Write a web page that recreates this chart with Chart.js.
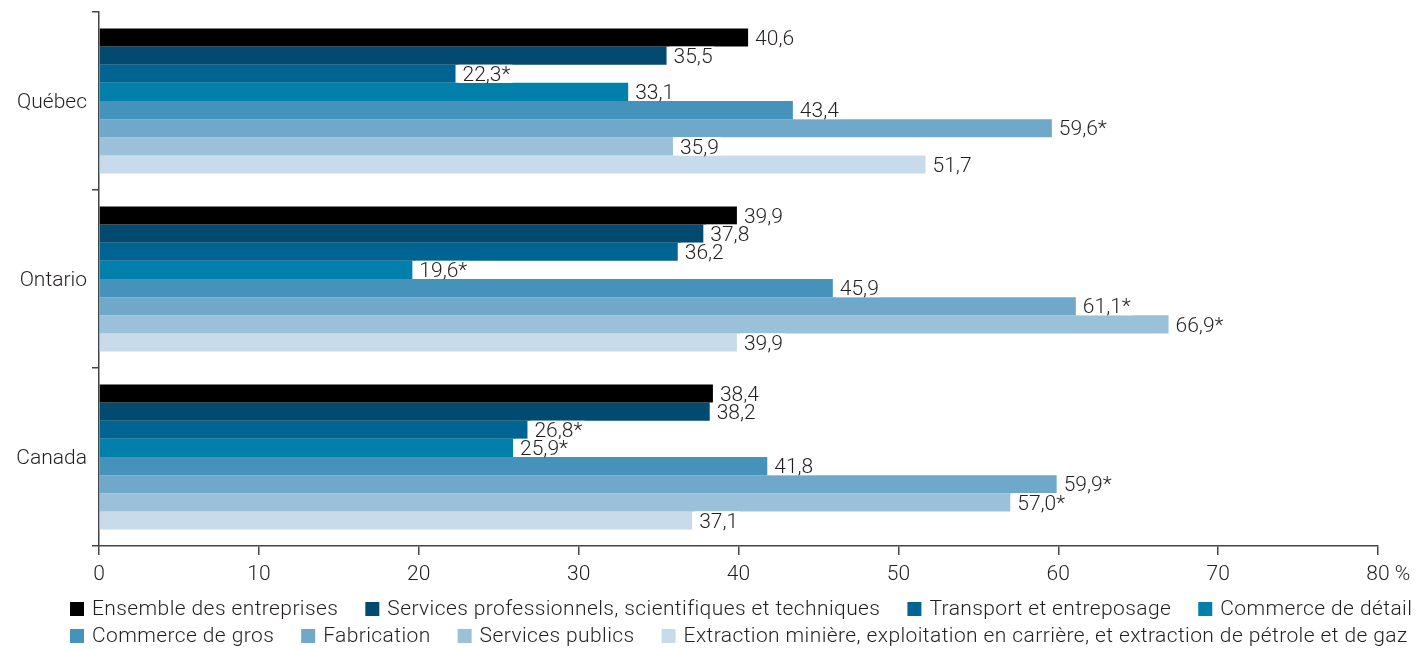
<!DOCTYPE html>
<html lang="fr">
<head>
<meta charset="utf-8">
<script src="https://cdn.jsdelivr.net/npm/chart.js@4.4.1/dist/chart.umd.min.js"></script>
<style>
  html, body { margin: 0; padding: 0; background: #fff; }
  #wrap { width: 1420px; height: 649px; }
</style>
</head>
<body>
<div id="wrap"><canvas id="chart" width="1420" height="649"></canvas></div>
<script>
// catégories (axe vertical)
const regions = ['Québec', 'Ontario', 'Canada'];

// séries (ordre de haut en bas dans chaque groupe)
const seriesNames = [
  'Ensemble des entreprises',
  'Services professionnels, scientifiques et techniques',
  'Transport et entreposage',
  'Commerce de détail',
  'Commerce de gros',
  'Fabrication',
  'Services publics',
  'Extraction minière, exploitation en carrière, et extraction de pétrole et de gaz'
];
const seriesColors = ['#000000', '#024a6f', '#006492', '#0080aa', '#4593bb', '#70a8ca', '#9bc0da', '#c7dbea'];

// valeurs en % (Québec, Ontario, Canada)
const ensemble     = [40.6, 39.9, 38.4];
const servicesPro  = [35.5, 37.8, 38.2];
const transport    = [22.3, 36.2, 26.8];
const detail       = [33.1, 19.6, 25.9];
const gros         = [43.4, 45.9, 41.8];
const fabrication  = [59.6, 61.1, 59.9];
const servPublics  = [35.9, 66.9, 57.0];
const extraction   = [51.7, 39.9, 37.1];

// astérisques (à interpréter avec prudence)
const ensembleStar    = [false, false, false];
const servicesProStar = [false, false, false];
const transportStar   = [true, false, true];
const detailStar      = [false, true, true];
const grosStar        = [false, false, false];
const fabricationStar = [true, true, true];
const servPublicsStar = [false, true, true];
const extractionStar  = [false, false, false];

// graduations de l'axe horizontal
const xTicks = [0, 10, 20, 30, 40, 50, 60, 70, 80];

const allValues = [ensemble, servicesPro, transport, detail, gros, fabrication, servPublics, extraction];
const allStars = [ensembleStar, servicesProStar, transportStar, detailStar, grosStar, fabricationStar, servPublicsStar, extractionStar];

const FONT = 'Roboto, "Liberation Sans", sans-serif';
const TEXT_COLOR = '#231f20';
const AXIS_COLOR = '#444';

function formatValue(v, star) {
  return v.toFixed(1).replace('.', ',') + (star ? '*' : '');
}

// étiquettes de valeur au bout des barres
const valueLabels = {
  id: 'valueLabels',
  afterDatasetsDraw(chart) {
    const ctx = chart.ctx;
    ctx.save();
    ctx.font = '300 21px ' + FONT;
    ctx.textBaseline = 'middle';
    ctx.textAlign = 'left';
    chart.data.datasets.forEach((ds, di) => {
      const meta = chart.getDatasetMeta(di);
      meta.data.forEach((bar, i) => {
        const text = formatValue(ds.data[i], allStars[di][i]);
        const w = ctx.measureText(text).width;
        const x = bar.x + 7;
        const half = bar.height / 2;
        ctx.fillStyle = '#fff';
        ctx.fillRect(x - 4, bar.y - half, w + 6, bar.height);
        ctx.fillStyle = TEXT_COLOR;
        ctx.fillText(text, x, bar.y + 2);
      });
    });
    ctx.restore();
  }
};

// signe % après la dernière graduation, et légende sur deux lignes
const extras = {
  id: 'extras',
  afterDraw(chart) {
    const ctx = chart.ctx;
    const xs = chart.scales.x;
    ctx.save();
    ctx.font = '300 21px ' + FONT;
    ctx.fillStyle = TEXT_COLOR;
    ctx.textBaseline = 'middle';
    ctx.textAlign = 'left';
    const last = xTicks[xTicks.length - 1];
    const lw = ctx.measureText(String(last)).width;
    ctx.fillText(' %', xs.getPixelForValue(last) + lw / 2, 575);

    ctx.letterSpacing = '0.4px';
    const rows = [[0, 1, 2, 3], [4, 5, 6, 7]];
    const rowY = [609, 636];
    rows.forEach((row, r) => {
      let x = 70;
      row.forEach(idx => {
        ctx.fillStyle = seriesColors[idx];
        ctx.fillRect(x, rowY[r] - 7, 14, 14);
        ctx.fillStyle = TEXT_COLOR;
        ctx.fillText(seriesNames[idx], x + 22, rowY[r] + 1);
        x += 22 + ctx.measureText(seriesNames[idx]).width + 27;
      });
    });
    ctx.restore();
  }
};

const datasets = seriesNames.map((name, i) => ({
  label: name,
  data: allValues[i],
  backgroundColor: seriesColors[i],
  borderWidth: 0,
  categoryPercentage: 0.815,
  barPercentage: 1
}));

new Chart(document.getElementById('chart'), {
  type: 'bar',
  data: { labels: regions, datasets: datasets },
  options: {
    indexAxis: 'y',
    responsive: false,
    animation: false,
    layout: { padding: { top: 12, right: 42, left: 0, bottom: 0 } },
    plugins: {
      legend: { display: false },
      tooltip: { enabled: false }
    },
    scales: {
      x: {
        min: 0,
        max: 80,
        afterBuildTicks: scale => { scale.ticks = xTicks.map(v => ({ value: v })); },
        afterFit: scale => { scale.height = 103; },
        ticks: {
          font: { family: FONT, size: 21, weight: 300 },
          color: TEXT_COLOR,
          padding: 7,
          maxRotation: 0
        },
        grid: { drawOnChartArea: false, drawTicks: true, tickLength: 9, color: AXIS_COLOR, lineWidth: 1.5 },
        border: { display: true, color: AXIS_COLOR, width: 1.5 }
      },
      y: {
        afterFit: scale => {
          scale.width = 99;
          scale.paddingTop = 0;
          scale.paddingBottom = 0;
        },
        ticks: {
          font: { family: FONT, size: 21, weight: 300 },
          color: TEXT_COLOR,
          padding: 5,
          labelOffset: 2
        },
        grid: { offset: true, drawOnChartArea: false, drawTicks: true, tickLength: 7, color: AXIS_COLOR, lineWidth: 1.5 },
        border: { display: true, color: AXIS_COLOR, width: 1.5 }
      }
    }
  },
  plugins: [valueLabels, extras]
});
</script>
</body>
</html>
